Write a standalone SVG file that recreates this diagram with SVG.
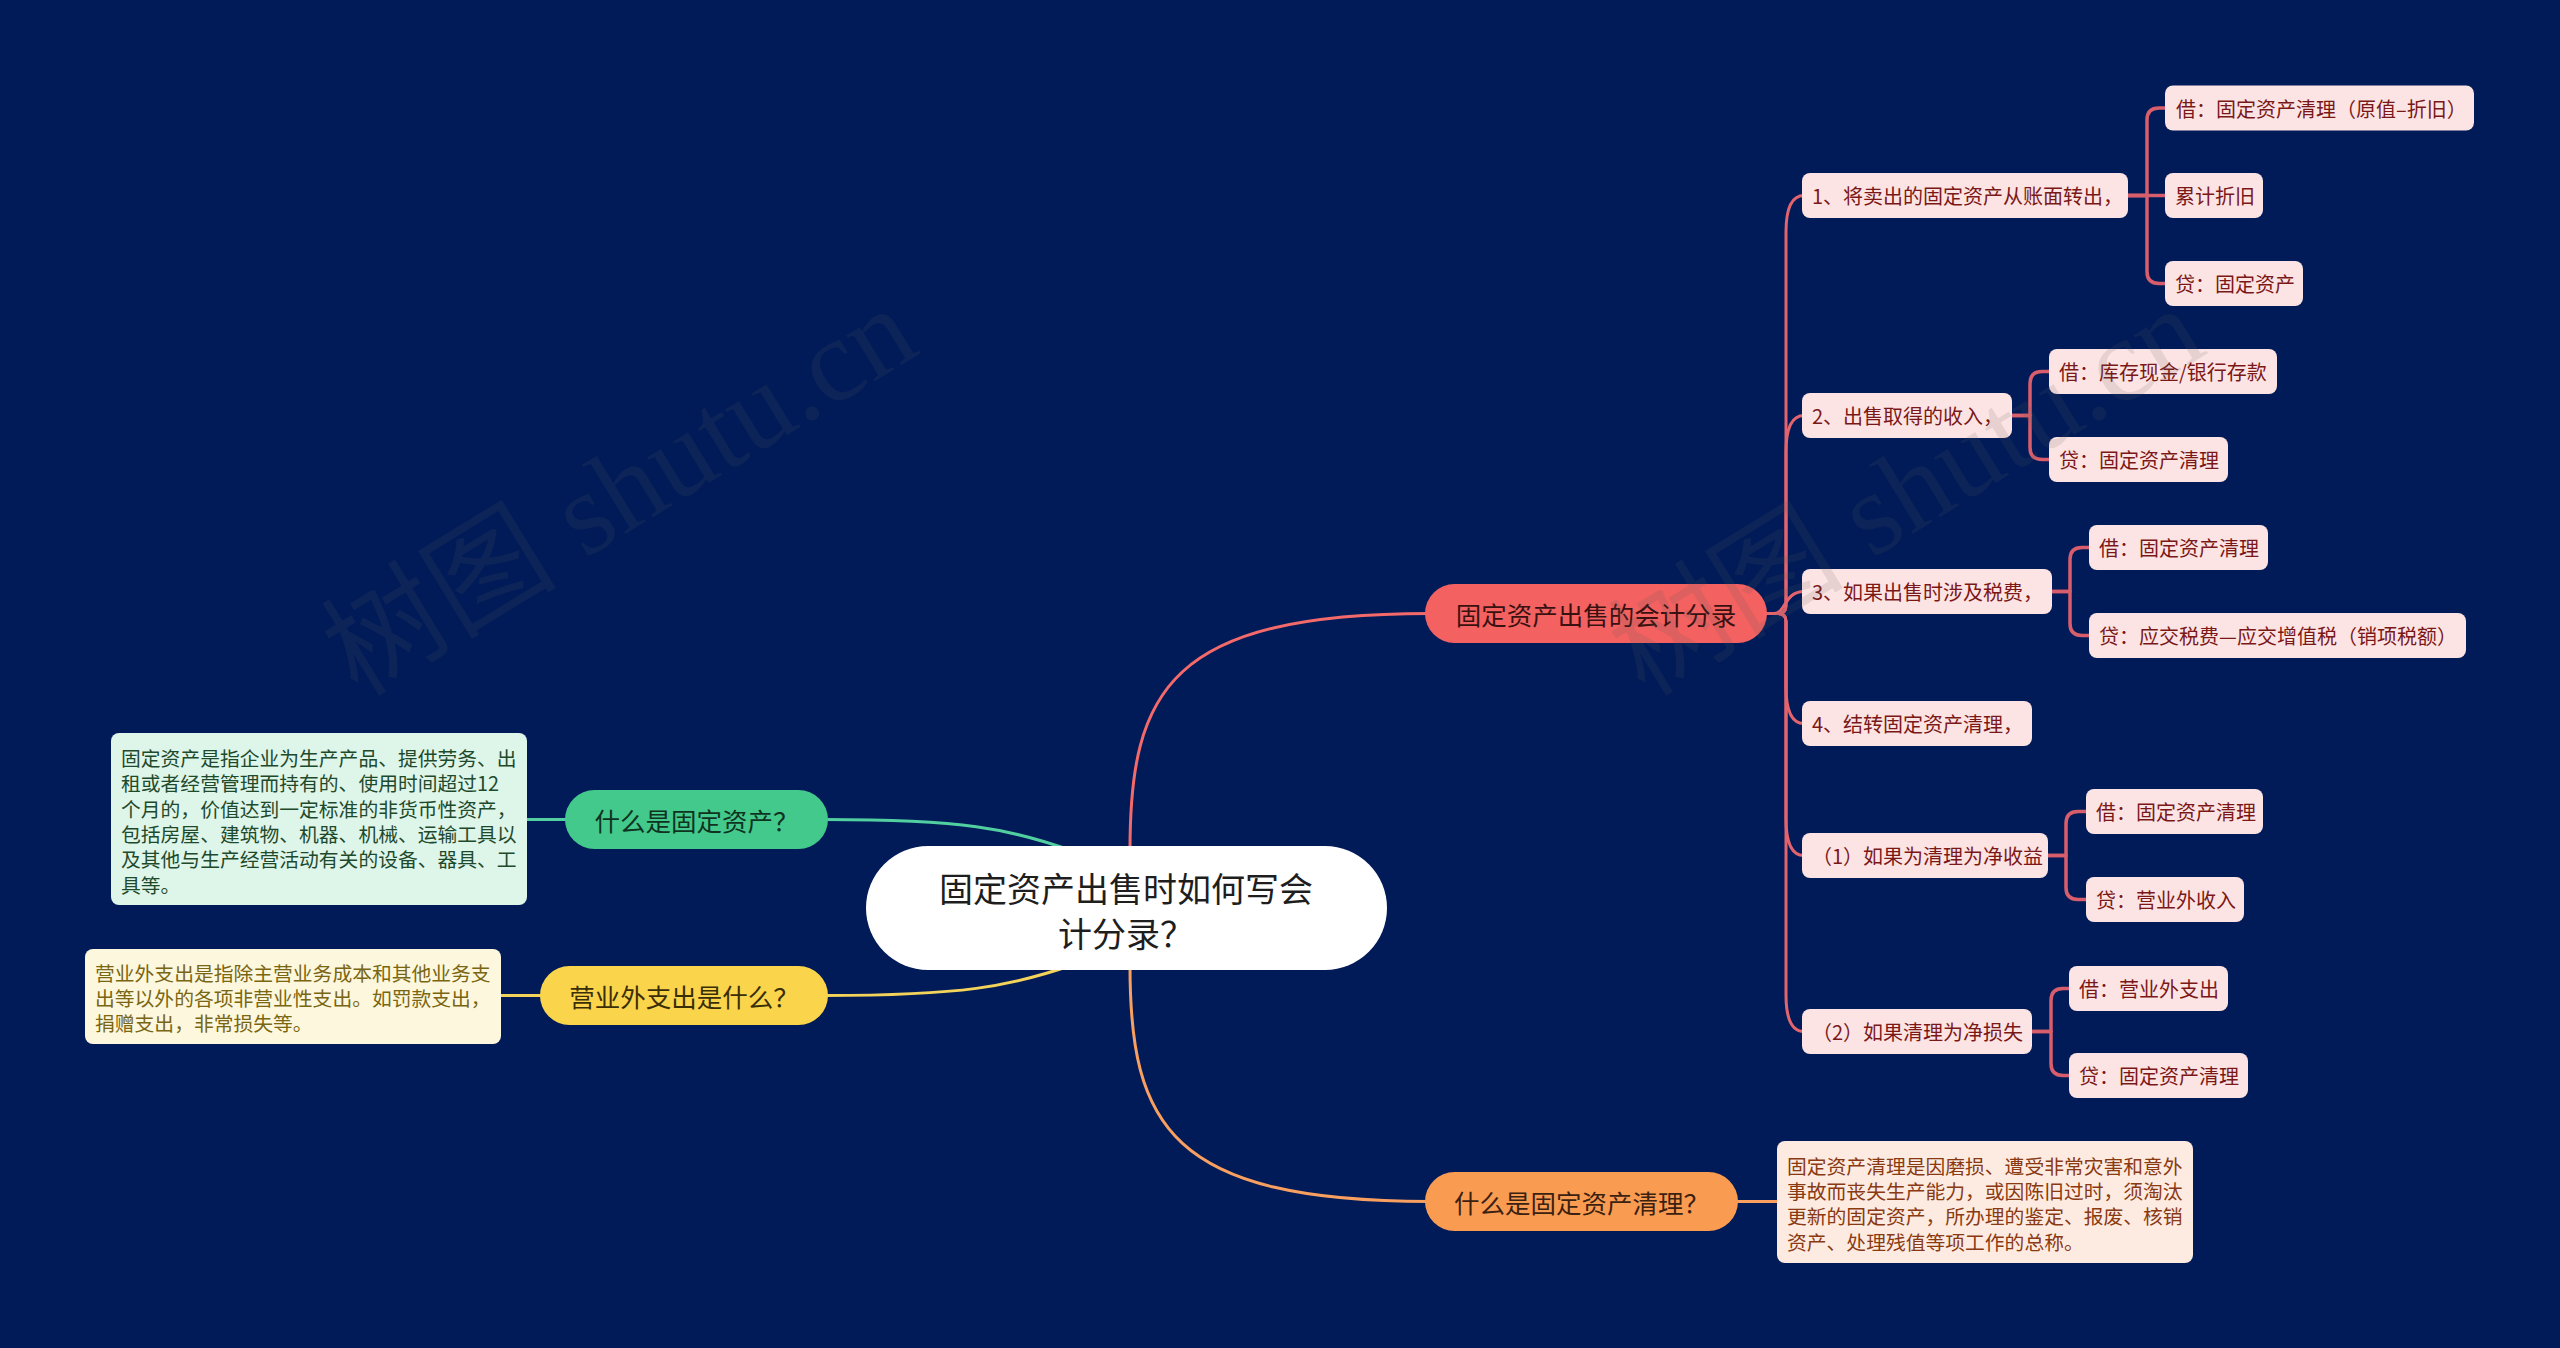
<svg xmlns="http://www.w3.org/2000/svg" width="2560" height="1348" viewBox="0 0 2560 1348">
<defs>
<style>
text{font-family:"Noto Sans CJK SC","Noto Sans",sans-serif;dominant-baseline:central}
.l2 rect{fill:#fde4e4}
.l2 text{fill:#7a1818;font-size:20px}
.pill text{font-size:25.5px;text-anchor:middle}
.desc text{font-size:19.8px}
.c2{fill:none;stroke:#e4646e;stroke-width:3;stroke-linecap:round}
.c3{fill:none;stroke:#d85e6c;stroke-width:3.5;stroke-linecap:round;stroke-linejoin:round}
.wm{font-family:"Liberation Serif","Noto Sans CJK SC",serif;font-size:118px;fill:#5a5a5a;fill-opacity:0.14;dominant-baseline:auto}
</style>
</defs>
<rect x="0" y="0" width="2560" height="1348" fill="#011b58"/>

<g id="connectors">
<path d="M1130 850 C1130 690 1170 613.5 1430 613.5" fill="none" stroke="#f46a6a" stroke-width="3"/>
<path d="M1130 966 C1130 1125 1170 1201.5 1430 1201.5" fill="none" stroke="#f9a060" stroke-width="3"/>
<path d="M825 819.5 C960 819.5 1010 828 1075 852" fill="none" stroke="#52cfa0" stroke-width="3"/>
<path d="M825 995.5 C960 995.5 1010 987 1075 964" fill="none" stroke="#f3d35a" stroke-width="3"/>
<path d="M527 819.5 H566" fill="none" stroke="#52cfa0" stroke-width="3"/>
<path d="M501 995.5 H541" fill="none" stroke="#f3d35a" stroke-width="3"/>
<path d="M1736 1201.5 H1778" fill="none" stroke="#f9a060" stroke-width="3"/>

<path class="c2" d="M1765 613.5 H1778 Q1786 613.5 1786 605.5 V232 C1786 208 1792 195.5 1804 195.5"/>
<path class="c2" d="M1765 613.5 H1778 Q1786 613.5 1786 605.5 V452 C1786 428 1792 415.5 1804 415.5"/>
<path class="c2" d="M1765 613.5 H1774 C1786 613.5 1784 591.5 1804 591.5"/>
<path class="c2" d="M1765 613.5 H1778 Q1786 613.5 1786 621.5 V687 C1786 711 1792 723.5 1804 723.5"/>
<path class="c2" d="M1765 613.5 H1778 Q1786 613.5 1786 621.5 V819 C1786 843 1792 855.5 1804 855.5"/>
<path class="c2" d="M1765 613.5 H1778 Q1786 613.5 1786 621.5 V995 C1786 1019 1792 1031.5 1804 1031.5"/>

<path class="c3" d="M2126 195.5 H2147 V120 Q2147 108 2159 108 H2167"/>
<path class="c3" d="M2126 195.5 H2167"/>
<path class="c3" d="M2126 195.5 H2147 V271.5 Q2147 283.5 2159 283.5 H2167"/>
<path class="c3" d="M2010 415.5 H2030 V383.5 Q2030 371.5 2042 371.5 H2051"/>
<path class="c3" d="M2010 415.5 H2030 V447.5 Q2030 459.5 2042 459.5 H2051"/>
<path class="c3" d="M2050 591.5 H2070 V559.5 Q2070 547.5 2082 547.5 H2091"/>
<path class="c3" d="M2050 591.5 H2070 V623.5 Q2070 635.5 2082 635.5 H2091"/>
<path class="c3" d="M2046 855.5 H2066 V823.5 Q2066 811.5 2078 811.5 H2088"/>
<path class="c3" d="M2046 855.5 H2066 V887.5 Q2066 899.5 2078 899.5 H2088"/>
<path class="c3" d="M2030 1031.5 H2051 V1000.5 Q2051 988.5 2063 988.5 H2071"/>
<path class="c3" d="M2030 1031.5 H2051 V1063.5 Q2051 1075.5 2063 1075.5 H2071"/>
</g>

<g id="root">
<rect x="866" y="846" width="521" height="124" rx="62" fill="#ffffff"/>
<text x="1126" y="887" font-size="34" text-anchor="middle" fill="#1e1e1e">固定资产出售时如何写会</text>
<text x="1126" y="932" font-size="34" text-anchor="middle" fill="#1e1e1e">计分录？</text>
</g>

<g id="b-sale" class="pill">
<rect x="1425" y="584" width="342" height="59" rx="29.5" fill="#f36161"/>
<text x="1596" y="613.5" fill="#3a1111">固定资产出售的会计分录</text>
</g>
<g id="b-clear" class="pill">
<rect x="1425" y="1172" width="313" height="59" rx="29.5" fill="#fa9b52"/>
<text x="1581.5" y="1201.5" fill="#3b2110">什么是固定资产清理？</text>
</g>
<g id="b-asset" class="pill">
<rect x="565" y="790" width="263" height="59" rx="29.5" fill="#43c98c"/>
<text x="696.5" y="819.5" fill="#0f3320">什么是固定资产？</text>
</g>
<g id="b-expense" class="pill">
<rect x="540" y="966" width="288" height="59" rx="29.5" fill="#fad54c"/>
<text x="684" y="995.5" fill="#3a2e07">营业外支出是什么？</text>
</g>

<g id="d-asset" class="desc">
<rect x="111" y="733" width="416" height="172" rx="8" fill="#def5ea"/>
<text fill="#1e4a2c">
<tspan x="121" y="757">固定资产是指企业为生产产品、提供劳务、出</tspan>
<tspan x="121" y="782.3">租或者经营管理而持有的、使用时间超过12</tspan>
<tspan x="121" y="807.6">个月的，价值达到一定标准的非货币性资产，</tspan>
<tspan x="121" y="832.9">包括房屋、建筑物、机器、机械、运输工具以</tspan>
<tspan x="121" y="858.2">及其他与生产经营活动有关的设备、器具、工</tspan>
<tspan x="121" y="883.5">具等。</tspan>
</text>
</g>
<g id="d-expense" class="desc">
<rect x="85" y="949" width="416" height="95" rx="8" fill="#fdf8dd"/>
<text fill="#7a6612">
<tspan x="95" y="971.5">营业外支出是指除主营业务成本和其他业务支</tspan>
<tspan x="95" y="996.8">出等以外的各项非营业性支出。如罚款支出，</tspan>
<tspan x="95" y="1022.1">捐赠支出，非常损失等。</tspan>
</text>
</g>
<g id="d-clear" class="desc">
<rect x="1777" y="1141" width="416" height="122" rx="8" fill="#fdebe1"/>
<text fill="#8a3a12">
<tspan x="1787" y="1164.5">固定资产清理是因磨损、遭受非常灾害和意外</tspan>
<tspan x="1787" y="1189.9">事故而丧失生产能力，或因陈旧过时，须淘汰</tspan>
<tspan x="1787" y="1215.3">更新的固定资产，所办理的鉴定、报废、核销</tspan>
<tspan x="1787" y="1240.7">资产、处理残值等项工作的总称。</tspan>
</text>
</g>

<g id="n1" class="l2"><rect x="1802" y="173" width="326" height="45" rx="8"/><text x="1812" y="195.5">1、将卖出的固定资产从账面转出，</text></g>
<g id="n2" class="l2"><rect x="1802" y="393" width="210" height="45" rx="8"/><text x="1812" y="415.5">2、出售取得的收入，</text></g>
<g id="n3" class="l2"><rect x="1802" y="569" width="250" height="45" rx="8"/><text x="1812" y="591.5">3、如果出售时涉及税费，</text></g>
<g id="n4" class="l2"><rect x="1802" y="701" width="230" height="45" rx="8"/><text x="1812" y="723.5">4、结转固定资产清理，</text></g>
<g id="n5" class="l2"><rect x="1802" y="833" width="246" height="45" rx="8"/><text x="1812" y="855.5">（1）如果为清理为净收益</text></g>
<g id="n6" class="l2"><rect x="1802" y="1009" width="230" height="45" rx="8"/><text x="1812" y="1031.5">（2）如果清理为净损失</text></g>

<g id="n1a" class="l2"><rect x="2165" y="85.5" width="309" height="45" rx="8"/><text x="2176" y="108">借：固定资产清理（原值–折旧）</text></g>
<g id="n1b" class="l2"><rect x="2165" y="173" width="98" height="45" rx="8"/><text x="2175" y="195.5">累计折旧</text></g>
<g id="n1c" class="l2"><rect x="2165" y="261" width="138" height="45" rx="8"/><text x="2175" y="283.5">贷：固定资产</text></g>
<g id="n2a" class="l2"><rect x="2049" y="349" width="228" height="45" rx="8"/><text x="2059" y="371.5">借：库存现金/银行存款</text></g>
<g id="n2b" class="l2"><rect x="2049" y="437" width="179" height="45" rx="8"/><text x="2059" y="459.5">贷：固定资产清理</text></g>
<g id="n3a" class="l2"><rect x="2089" y="525" width="179" height="45" rx="8"/><text x="2099" y="547.5">借：固定资产清理</text></g>
<g id="n3b" class="l2"><rect x="2089" y="613" width="377" height="45" rx="8"/><text x="2099" y="635.5">贷：应交税费—应交增值税（销项税额）</text></g>
<g id="n5a" class="l2"><rect x="2086" y="789" width="177" height="45" rx="8"/><text x="2096" y="811.5">借：固定资产清理</text></g>
<g id="n5b" class="l2"><rect x="2086" y="877" width="158" height="45" rx="8"/><text x="2096" y="899.5">贷：营业外收入</text></g>
<g id="n6a" class="l2"><rect x="2069" y="966" width="159" height="45" rx="8"/><text x="2079" y="988.5">借：营业外支出</text></g>
<g id="n6b" class="l2"><rect x="2069" y="1053" width="179" height="45" rx="8"/><text x="2079" y="1075.5">贷：固定资产清理</text></g>

<g id="watermark">
<text class="wm" x="358" y="698" transform="rotate(-31.5 358 698)">树图 shutu.cn</text>
<text class="wm" x="1645" y="698" transform="rotate(-31.5 1645 698)">树图 shutu.cn</text>
</g>
</svg>
